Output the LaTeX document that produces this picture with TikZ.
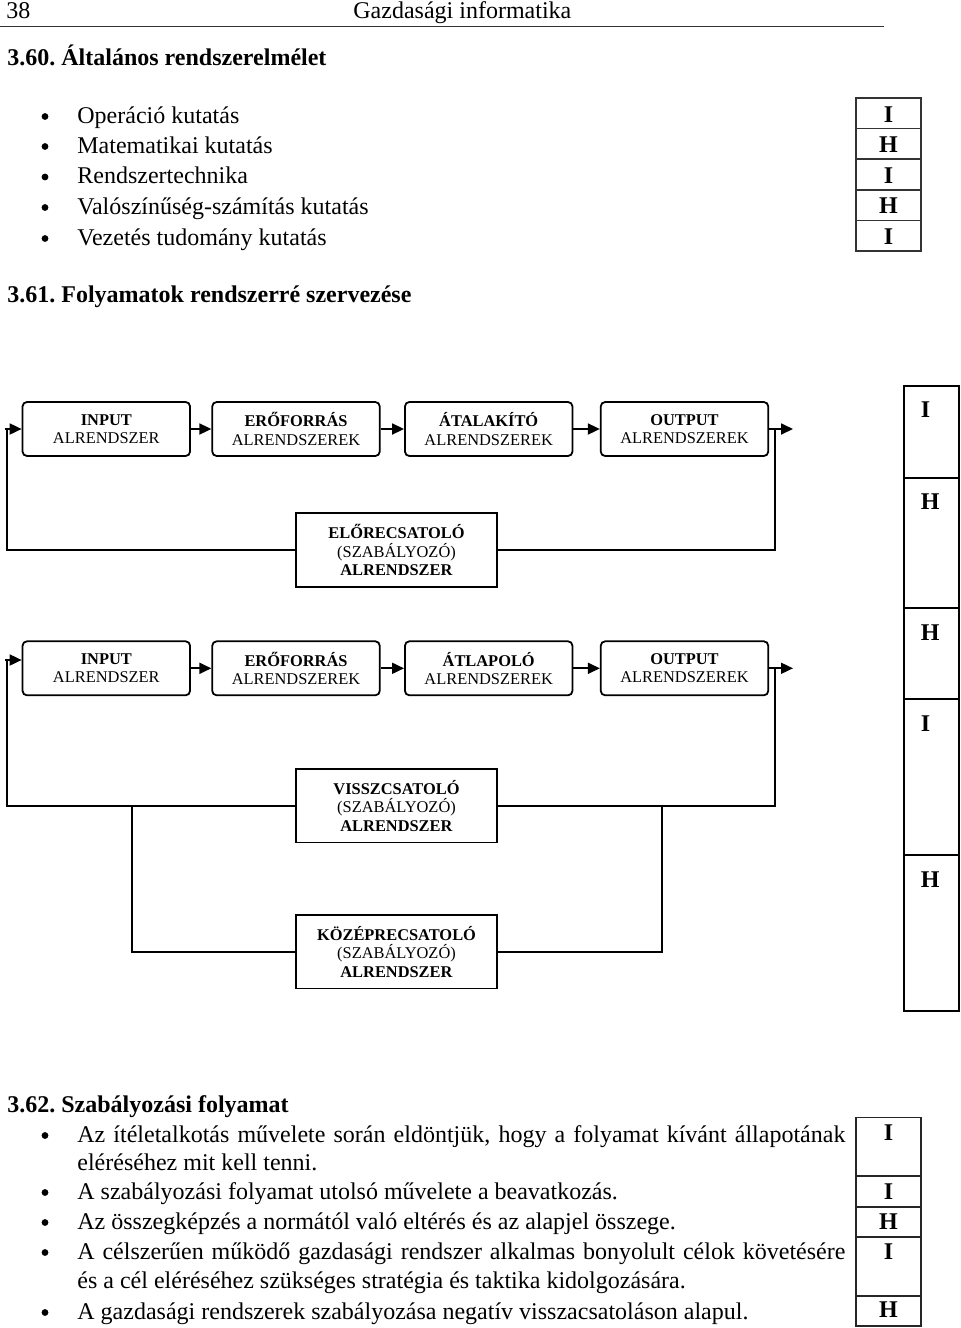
\documentclass[tikz,border=0pt]{standalone}
\usepackage{fontspec}
\setmainfont{Liberation Serif}
\usetikzlibrary{arrows.meta}
\frenchspacing
\begin{document}
\frenchspacing
\begin{tikzpicture}[x=0.5pt,y=-0.5pt,
  sysbox/.style={draw, line width=0.9pt, rounded corners=2.2pt, minimum width=83.75pt, minimum height=27pt, inner sep=0pt, align=center, font=\fontsize{8.2}{9.2}\selectfont},
  regbox/.style={draw, line width=0.9pt, minimum width=100.5pt, minimum height=36.7pt, inner sep=0pt, align=center, font=\fontsize{8.2}{9.25}\selectfont},
  link/.style={line width=0.9pt},
  arr/.style={link, -{Triangle[length=6pt,width=5.5pt]}},
  txt/.style={anchor=base west, inner sep=0pt, font=\fontsize{12}{15}\selectfont\frenchspacing},
  bold/.style={txt, font=\fontsize{12}{15}\selectfont\bfseries\frenchspacing},
  bul/.style={circle, fill, inner sep=0pt, minimum size=3.4pt},
  tbl/.style={line width=0.8pt},
  hmc/.style={anchor=base, inner sep=0pt, font=\fontsize{12}{15}\selectfont\bfseries},
  hml/.style={anchor=base west, inner sep=0pt, font=\fontsize{12}{15}\selectfont\bfseries}]
\useasboundingbox (0,0) rectangle (960,1328);
\fill[white] (0,0) rectangle (960,1328);
% header
\node[txt] (pg) at (6,18) {38};
\node[txt] (hd) at (353,18) {Gazdasági informatika};
\coordinate (rl) at (0,26.5);
\coordinate (rr) at (884,26.5);
\draw[line width=0.75pt, black!80] (rl) -- (rr);
% 3.60
\node[bold] (h1) at (7,65) {3.60. Általános rendszerelmélet};
\node[txt] (l1) at (77,123) {Operáció kutatás};
\node[txt] (l2) at (77,153) {Matematikai kutatás};
\node[txt] (l3) at (77,183.5) {Rendszertechnika};
\node[txt] (l4) at (77,214) {Valószínűség-számítás kutatás};
\node[txt] (l5) at (77,245) {Vezetés tudomány kutatás};
\node[bul] (b1) at (45,116.5) {};
\node[bul] (b2) at (45,146.5) {};
\node[bul] (b3) at (45,177) {};
\node[bul] (b4) at (45,207.5) {};
\node[bul] (b5) at (45,238.5) {};
\draw[tbl, black!80] (856,98) rectangle (921,251);
\foreach \yy in {128.6,159.2,189.8,220.4} \draw[tbl, black!80] (856,\yy) -- (921,\yy);
\node[hmc] (m1) at (888.5,122) {I};
\node[hmc] (m2) at (888.5,152.5) {H};
\node[hmc] (m3) at (888.5,183) {I};
\node[hmc] (m4) at (888.5,213.5) {H};
\node[hmc] (m5) at (888.5,244) {I};
% 3.61
\node[bold] (h2) at (7,302) {3.61. Folyamatok rendszerré szervezése};
% row 1
\node[sysbox] (a1) at (106.3,429) {\textbf{INPUT}\\ALRENDSZER};
\node[sysbox] (a2) at (296,429) {\textbf{ERŐFORRÁS}\\ALRENDSZEREK};
\node[sysbox] (a3) at (488.7,429) {\textbf{ÁTALAKÍTÓ}\\ALRENDSZEREK};
\node[sysbox] (a4) at (684.5,429) {\textbf{OUTPUT}\\ALRENDSZEREK};
\node[regbox] (fw) at (396.5,550) {\textbf{ELŐRECSATOLÓ}\\(SZABÁLYOZÓ)\\\textbf{ALRENDSZER}};
\coordinate (in1) at (5,429);
\coordinate (c1) at (7,429);
\coordinate (out1) at (793,429);
\coordinate (r1) at (774.7,429);
\draw[arr] (in1) -- (a1.west);
\draw[arr] (a1) -- (a2);
\draw[arr] (a2) -- (a3);
\draw[arr] (a3) -- (a4);
\draw[arr] (a4.east) -- (out1);
\draw[link] (fw.west) -| (c1);
\draw[link] (r1) |- (fw.east);
% row 2
\node[sysbox] (s1) at (106.3,668.3) {\textbf{INPUT}\\ALRENDSZER};
\node[sysbox] (s2) at (296,668.3) {\textbf{ERŐFORRÁS}\\ALRENDSZEREK};
\node[sysbox] (s3) at (488.7,668.3) {\textbf{ÁTLAPOLÓ}\\ALRENDSZEREK};
\node[sysbox] (s4) at (684.5,668.3) {\textbf{OUTPUT}\\ALRENDSZEREK};
\node[regbox] (fb) at (396.5,805.8) {\textbf{VISSZCSATOLÓ}\\(SZABÁLYOZÓ)\\\textbf{ALRENDSZER}};
\node[regbox] (md) at (396.5,951.7) {\textbf{KÖZÉPRECSATOLÓ}\\(SZABÁLYOZÓ)\\\textbf{ALRENDSZER}};
\coordinate (in2) at (5,660);
\coordinate (c2) at (7,660);
\coordinate (out2) at (793,668.3);
\coordinate (r2) at (774.7,668.3);
\coordinate (jl) at (132.3,805.8);
\coordinate (jr) at (662.3,805.8);
\draw[arr] (in2) -- (in2 -| s1.west);
\draw[arr] (s1) -- (s2);
\draw[arr] (s2) -- (s3);
\draw[arr] (s3) -- (s4);
\draw[arr] (s4.east) -- (out2);
\draw[link] (fb.west) -| (c2);
\draw[link] (r2) |- (fb.east);
\draw[link] (jl) |- (md.west);
\draw[link] (jr) |- (md.east);
% tall table
\draw[tbl] (904,385.7) rectangle (959,1011);
\foreach \yy in {477.7,608,699,855} \draw[tbl] (904,\yy) -- (959,\yy);
\node[hml] (t1) at (920.5,417.7) {I};
\node[hml] (t2) at (920.5,509.3) {H};
\node[hml] (t3) at (920.5,640) {H};
\node[hml] (t4) at (920.5,731) {I};
\node[hml] (t5) at (920.5,887.7) {H};
% 3.62
\node[bold] (h3) at (7,1112) {3.62. Szabályozási folyamat};
\node[txt] (p1) at (77,1142) {\makebox[384pt][s]{Az ítéletalkotás művelete során eldöntjük, hogy a folyamat kívánt állapotának}};
\node[txt] (p2) at (77,1170) {eléréséhez mit kell tenni.};
\node[txt] (p3) at (77,1199) {A szabályozási folyamat utolsó művelete a beavatkozás.};
\node[txt] (p4) at (77,1229) {Az összegképzés a normától való eltérés és az alapjel összege.};
\node[txt] (p5) at (77,1259) {\makebox[384pt][s]{A célszerűen működő gazdasági rendszer alkalmas bonyolult célok követésére}};
\node[txt] (p6) at (77,1288) {és a cél eléréséhez szükséges stratégia és taktika kidolgozására.};
\node[txt] (p7) at (77,1319) {A gazdasági rendszerek szabályozása negatív visszacsatoláson alapul.};
\node[bul] (q1) at (45,1135.5) {};
\node[bul] (q3) at (45,1192.5) {};
\node[bul] (q4) at (45,1222.5) {};
\node[bul] (q5) at (45,1252.5) {};
\node[bul] (q7) at (45,1312.5) {};
\draw[tbl, black!85] (856,1117.3) rectangle (921,1326);
\foreach \yy in {1176,1206.7,1236.7,1296} \draw[tbl, black!85] (856,\yy) -- (921,\yy);
\node[hmc] (n1) at (888.5,1140) {I};
\node[hmc] (n2) at (888.5,1199) {I};
\node[hmc] (n3) at (888.5,1229) {H};
\node[hmc] (n4) at (888.5,1259) {I};
\node[hmc] (n5) at (888.5,1317) {H};
\end{tikzpicture}
\end{document}
